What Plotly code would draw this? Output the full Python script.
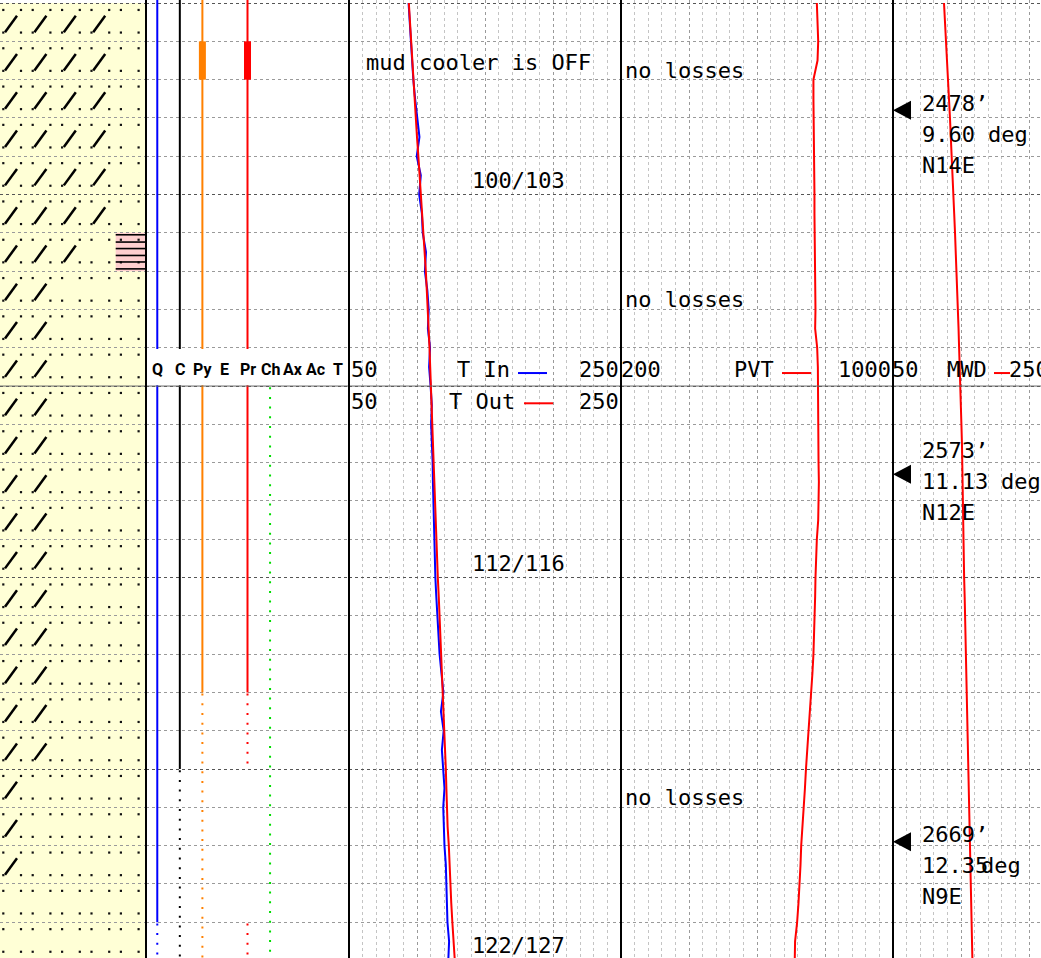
import plotly.graph_objects as go

W, H = 1041, 958
PX_PER_FT = 3.83
Y_TOP = 2449.2
Y_BOT = Y_TOP + H / PX_PER_FT

# ---------------- data ----------------
depth = [2450, 2455, 2460, 2465, 2470, 2475, 2480, 2485, 2490, 2495,
         2500, 2505, 2510, 2515, 2520, 2525, 2530, 2535, 2540, 2545,
         2550, 2555, 2560, 2565, 2570, 2575, 2580, 2585, 2590, 2595,
         2600, 2605, 2610, 2615, 2620, 2625, 2630, 2635, 2640, 2645,
         2650, 2655, 2660, 2665, 2670, 2675, 2680, 2685, 2690, 2695, 2700]

t_in = [93.8, 94.6, 95.4, 96.4, 97.3, 98.6, 100.2, 101.8, 99.8, 102.8,
        101.6, 103.6, 104.2, 106.6, 105.8, 107.6, 108.6, 108.0, 109.6, 108.9,
        110.0, 110.9, 110.4, 111.2, 111.5, 111.7, 112.0, 112.3, 112.6, 113.0,
        113.5, 114.2, 115.0, 115.8, 116.6, 118.0, 119.4, 117.6, 119.6, 118.3,
        119.2, 120.2, 119.3, 119.6, 120.2, 121.2, 121.6, 122.1, 122.4, 123.6, 123.0]

t_out = [94.0, 94.8, 95.7, 96.5, 97.4, 98.3, 99.2, 100.0, 101.0, 102.0,
         103.0, 103.8, 104.8, 105.7, 106.5, 107.2, 108.0, 108.6, 109.2, 109.7,
         110.2, 110.6, 111.0, 111.4, 111.8, 112.3, 112.8, 113.3, 113.9, 114.6,
         115.3, 116.0, 116.6, 117.3, 118.0, 118.6, 119.2, 119.7, 120.2, 120.7,
         121.2, 121.6, 122.0, 122.5, 123.4, 123.9, 124.5, 125.2, 126.0, 127.0, 127.8]

pvt = [776, 779, 780, 778, 766, 766, 767, 767, 768, 768,
       769, 769, 770, 770, 771, 771, 772, 771, 777, 779,
       779, 780, 780, 781, 781, 782, 781, 780, 776, 773,
       772, 771, 770, 768, 766, 763, 759, 754, 750, 746,
       744, 741, 737, 733, 730, 728, 726, 722, 718, 712, 711]

mwd = [87.5, 88.3, 89.0, 89.8, 90.6, 91.4, 91.9, 92.5, 93.0, 93.6,
       94.3, 95.0, 95.6, 96.2, 96.8, 97.3, 97.8, 98.2, 98.6, 98.9,
       99.3, 99.8, 100.3, 100.7, 100.9, 101.0, 101.1, 101.3, 101.6, 101.9,
       102.3, 102.7, 103.0, 103.3, 103.6, 103.9, 104.3, 104.6, 104.9, 105.2,
       105.4, 105.7, 106.0, 106.2, 106.4, 106.6, 106.9, 107.3, 107.7, 108.1, 108.4]

# lithology rows (10 ft): number of sandstone streak marks per row
lith_top = [2450, 2460, 2470, 2480, 2490, 2500, 2510, 2520, 2530, 2540,
            2550, 2560, 2570, 2580, 2590, 2600, 2610, 2620, 2630, 2640,
            2650, 2660, 2670, 2680, 2690]
slash_count = [4, 4, 4, 4, 4, 4, 3, 2, 2, 2,
               2, 2, 2, 2, 2, 2, 2, 2, 2, 2,
               1, 1, 1, 0, 0]
pink_interval = (2510, 2520)

# left track components
comp_names = ["Q", "C", "Py", "E", "Pr", "Ch", "Ax", "Ac", "T"]
comp_colors = {"Q": "#0000ff", "C": "#000000", "Py": "#ff8000", "Pr": "#ff0000", "Ch": "#00dd00"}
solid_intervals = {"Q": [(Y_TOP, 2690)], "C": [(Y_TOP, 2650)], "Py": [(Y_TOP, 2630)], "Pr": [(Y_TOP, 2630)]}
dotted_intervals = {"Q": [(2690, 2700)], "C": [(2650, 2700)], "Py": [(2630, 2700)],
                    "Pr": [(2630, 2650), (2690, 2700)], "Ch": [(2550, 2700)]}
bar_intervals = {"Py": [(2460, 2470)], "Pr": [(2460, 2470)]}

# MWD surveys
survey_depth = [2478, 2573, 2669]
survey_md = ["2478\u2019", "2573\u2019", "2669\u2019"]
survey_inc = ["9.60", "11.13", "12.35"]
survey_azi = ["N14E", "N12E", "N9E"]
survey_text_depth = [2476.1, 2566.7, 2667.2]
survey_deg_px = [989, 1002, 982]

temp_notes = ["100/103", "112/116", "122/127"]
temp_note_depth = [2496.2, 2596.2, 2696.0]
loss_note_depth = [2467.5, 2527.3, 2657.3]

# ---------------- layout helpers ----------------
X_LITH, X_LEFT, X_T, X_PVT = 146, 349, 621, 893
MONO = "DejaVu Sans Mono"
fig = go.Figure()

def px(x):
    return x / W

# ---- lithology ----
xs, ys = [], []
for top, n in zip(lith_top, slash_count):
    for k in range(n):
        xs += [5.0 + 29.4 * k, 17.0 + 29.4 * k, None]
        ys += [top + 7.6, top + 3.3, None]
dx, dy = [], []
for top in lith_top:
    for off in (1.8, 7.7):
        for k in range(5):
            for base in (3.3, 21.0):
                dx.append(base + 29.4 * k)
                dy.append(top + off)
fig.add_trace(go.Scatter(x=dx, y=dy, mode="markers", xaxis="x", yaxis="y",
                         marker=dict(symbol="square", size=2.2, color="#111111", line=dict(width=0)),
                         hoverinfo="skip"))
fig.add_trace(go.Scatter(x=xs, y=ys, mode="lines", xaxis="x", yaxis="y",
                         line=dict(color="black", width=2.5), hoverinfo="skip"))
# streaks in pink box
hx, hy = [], []
for off in (0.5, 2.4, 4.1, 5.9, 7.6, 9.4):
    hx += [115.7, 146, None]
    hy += [pink_interval[0] + off, pink_interval[0] + off, None]
fig.add_trace(go.Scatter(x=hx, y=hy, mode="lines", xaxis="x", yaxis="y",
                         line=dict(color="black", width=1.6), hoverinfo="skip"))

# ---- left track ----
for name, ivs in solid_intervals.items():
    i = comp_names.index(name)
    for a, b in ivs:
        fig.add_trace(go.Scatter(x=[i, i], y=[a, b], mode="lines", xaxis="x2", yaxis="y",
                                 line=dict(color=comp_colors[name], width=2), hoverinfo="skip"))
for name, ivs in dotted_intervals.items():
    i = comp_names.index(name)
    for a, b in ivs:
        fig.add_trace(go.Scatter(x=[i, i], y=[a + 0.3, b], mode="lines", xaxis="x2", yaxis="y",
                                 line=dict(color=comp_colors[name], width=2, dash="2px,7.7px"),
                                 hoverinfo="skip"))
for name, ivs in bar_intervals.items():
    i = comp_names.index(name)
    for a, b in ivs:
        fig.add_trace(go.Scatter(x=[i, i], y=[a, b], mode="lines", xaxis="x2", yaxis="y",
                                 line=dict(color=comp_colors[name], width=7), hoverinfo="skip"))

# ---- temperature track ----
fig.add_trace(go.Scatter(x=t_in, y=depth, mode="lines", xaxis="x3", yaxis="y",
                         line=dict(color="#0000ff", width=2), hoverinfo="skip"))
fig.add_trace(go.Scatter(x=t_out, y=depth, mode="lines", xaxis="x3", yaxis="y",
                         line=dict(color="#ff0000", width=2), hoverinfo="skip"))
# ---- PVT ----
fig.add_trace(go.Scatter(x=pvt, y=depth, mode="lines", xaxis="x4", yaxis="y",
                         line=dict(color="#ff0000", width=2), hoverinfo="skip"))
# ---- MWD ----
fig.add_trace(go.Scatter(x=mwd, y=depth, mode="lines", xaxis="x5", yaxis="y",
                         line=dict(color="#ff0000", width=2), hoverinfo="skip"))

# ---------------- axes ----------------
noticks = dict(showticklabels=False, ticks="", zeroline=False, showline=False, fixedrange=True)
grid_v = lambda dt, mdt, t0: dict(showgrid=True, dtick=dt, tick0=t0, gridcolor="#9a9a9a", griddash="dot",
                                  gridwidth=1,
                                  minor=dict(dtick=mdt, tick0=t0, showgrid=True, gridcolor="#c4c4c4",
                                             griddash="dot", gridwidth=1))
fig.update_layout(
    width=W, height=H, margin=dict(l=0, r=0, t=0, b=0, pad=0),
    paper_bgcolor="white", plot_bgcolor="white", showlegend=False,
    xaxis=dict(domain=[0, px(X_LITH)], range=[0, 146], showgrid=False, anchor="y", **noticks),
    xaxis2=dict(domain=[px(X_LITH), px(X_LEFT)], range=[-0.5, 8.5], showgrid=False, anchor="y", **noticks),
    xaxis3=dict(domain=[px(X_LEFT), px(X_T)], range=[50, 250], anchor="y", **grid_v(50, 10, 50), **noticks),
    xaxis4=dict(domain=[px(X_T), px(X_PVT)], range=[200, 1000], anchor="y", **grid_v(200, 40, 200), **noticks),
    xaxis5=dict(domain=[px(X_PVT), 1], range=[50, 50 + (W - X_PVT) / 1.36], anchor="y",
                **grid_v(50, 10, 50), **noticks),
    yaxis=dict(range=[Y_BOT, Y_TOP], showgrid=True, dtick=50, tick0=2450, gridcolor="#555555",
               griddash="dot", gridwidth=1,
               minor=dict(dtick=10, tick0=2450, showgrid=True, gridcolor="#9a9a9a", griddash="dot", gridwidth=1),
               **noticks),
)

# ---------------- shapes ----------------
shapes = []
shapes.append(dict(type="rect", xref="x", yref="y", x0=0, x1=146, y0=2450, y1=Y_BOT,
                   fillcolor="#ffffd6", line=dict(width=0), layer="below"))
shapes.append(dict(type="rect", xref="x", yref="y", x0=115.7, x1=146, y0=pink_interval[0], y1=pink_interval[1],
                   fillcolor="#ffcfcf", line=dict(width=0), layer="below"))
# header band in left track
shapes.append(dict(type="rect", xref="paper", yref="y", x0=px(X_LITH + 1), x1=px(X_LEFT - 1), y0=2540.3, y1=2549.8,
                   fillcolor="white", line=dict(width=0), layer="above"))
# header separator line
shapes.append(dict(type="line", xref="paper", yref="y", x0=0, x1=1, y0=2550, y1=2550,
                   line=dict(color="#666666", width=1), layer="above"))
# track borders
for xb in (X_LITH, X_LEFT, X_T, X_PVT):
    shapes.append(dict(type="line", xref="paper", yref="paper", x0=px(xb), x1=px(xb), y0=0, y1=1,
                       line=dict(color="black", width=2), layer="above"))
# legend swatches
for x0, x1, yy, col in ((518, 547, 2546.6, "#0000ff"), (524, 553, 2554.5, "#ff0000"),
                        (782, 811, 2546.6, "#ff0000"), (994, 1010, 2546.6, "#ff0000")):
    shapes.append(dict(type="line", xref="paper", yref="y", x0=px(x0), x1=px(x1), y0=yy, y1=yy,
                       line=dict(color=col, width=2), layer="above"))
# survey markers
for d in survey_depth:
    shapes.append(dict(type="path", xref="x5", yref="y", xsizemode="pixel", ysizemode="pixel",
                       xanchor=50, yanchor=d, path="M 0,0 L 18,-9.5 L 18,9.5 Z",
                       fillcolor="black", line=dict(width=0), layer="above"))
fig.update_layout(shapes=shapes)

# ---------------- annotations ----------------
ann = []
def text(x_px, d, s, anchor="left", size=22, family=MONO):
    ann.append(dict(xref="paper", yref="y", x=px(x_px), y=d, text=s, showarrow=False,
                    xanchor=anchor, yanchor="middle", font=dict(family=family, size=size, color="black"),
                    borderpad=0))

# left track header labels
for i, nm in enumerate(comp_names):
    ann.append(dict(xref="x2", yref="y", x=i, y=2545.8, text="<b>" + nm + "</b>", showarrow=False,
                    xanchor="center", yanchor="middle", borderpad=0,
                    font=dict(family="Roboto, Liberation Sans, sans-serif",
                              size=16, color="black")))
# track headers
text(350, 2545.8, "50"); text(456, 2545.8, "T In"); text(620, 2545.8, "250", anchor="right")
text(350, 2553.9, "50"); text(448, 2553.9, "T Out"); text(620, 2553.9, "250", anchor="right")
text(620, 2545.8, "200"); text(733, 2545.8, "PVT"); text(892, 2545.8, "1000", anchor="right")
text(891, 2545.8, "50"); text(946, 2545.8, "MWD"); text(1008, 2545.8, "250")

# comments
text(365, 2465.4, "mud cooler is OFF")
for d in loss_note_depth:
    text(624, d, "no losses")
for d, s in zip(temp_note_depth, temp_notes):
    text(471, d, s)
# surveys
for d, md, inc, azi, dpx in zip(survey_text_depth, survey_md, survey_inc, survey_azi, survey_deg_px):
    text(921, d, md)
    text(921, d + 8.1, inc)
    text(dpx - 2, d + 8.1, "deg")
    text(921, d + 16.2, azi)
fig.update_layout(annotations=ann)

fig.write_html("out.html", config={"displayModeBar": False},
               post_script="document.body.style.margin='0px';document.body.style.overflow='hidden';")
